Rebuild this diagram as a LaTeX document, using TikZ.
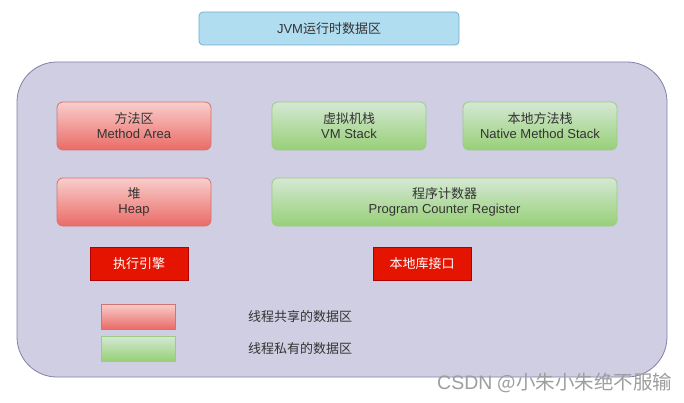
\documentclass[tikz,border=0pt]{standalone}
\usepackage{fontspec}
\setmainfont{Liberation Sans}
\newfontfamily\cjk{Noto Sans CJK SC}
\usetikzlibrary{positioning}
\definecolor{blueF}{HTML}{B1DDF0}
\definecolor{blueS}{HTML}{6FAFCF}
\definecolor{purF}{HTML}{D0CEE2}
\definecolor{purS}{HTML}{8480A8}
\definecolor{redT}{HTML}{F8CECC}
\definecolor{redB}{HTML}{EA6B66}
\definecolor{redS}{HTML}{D07470}
\definecolor{grnT}{HTML}{D5E8D4}
\definecolor{grnB}{HTML}{97D077}
\definecolor{grnS}{HTML}{9CCB86}
\definecolor{engF}{HTML}{E51400}
\definecolor{engS}{HTML}{B20000}
\definecolor{txt}{HTML}{333333}
\tikzset{
  x=1pt, y=-1pt,
  every node/.style={font=\fontsize{13}{15}\selectfont, text=txt, inner sep=0pt, align=center},
  sharedbox/.style={draw=redS, line width=0.8pt, rounded corners=6pt, top color=redT, bottom color=redB},
  privbox/.style={draw=grnS, line width=0.8pt, rounded corners=6pt, top color=grnT, bottom color=grnB},
  enginebox/.style={draw=engS, line width=0.6pt, fill=engF},
}
\begin{document}
\begin{tikzpicture}
\useasboundingbox (0,0) rectangle (684,403);
\fill[white] (0,0) rectangle (684,403);
% title
\draw[draw=blueS, fill=blueF, line width=0.8pt, rounded corners=4pt] (199,12) rectangle (459,45);
\node (title) at (329,28.5) {JVM{\cjk 运行时数据区}};
% container
\draw[draw=purS, fill=purF, line width=0.8pt, rounded corners=40pt] (17,62) rectangle (667,377);
% shared areas
\draw[sharedbox] (57,102) rectangle (211,150);
\node (method) at (134,126) {{\cjk 方法区}\\Method Area};
\draw[sharedbox] (57,178) rectangle (211,226);
\node (heap) at (134,202) {{\cjk 堆}\\Heap};
% private areas
\draw[privbox] (272,102) rectangle (426,150);
\node (vms) at (349,126) {{\cjk 虚拟机栈}\\VM Stack};
\draw[privbox] (463,102) rectangle (617,150);
\node (nms) at (540,126) {{\cjk 本地方法栈}\\Native Method Stack};
\draw[privbox] (272,178) rectangle (617,226);
\node (pcr) at (444.5,202) {{\cjk 程序计数器}\\Program Counter Register};
% engine boxes
\draw[enginebox] (90,247) rectangle (188,280);
\node[text=white] (eng) at (139,263.5) {\cjk 执行引擎};
\draw[enginebox] (373,247) rectangle (471,280);
\node[text=white] (nif) at (422,263.5) {\cjk 本地库接口};
% legend
\draw[draw=redS, line width=0.8pt, top color=redT, bottom color=redB] (101,304) rectangle (175,329);
\node[anchor=west] (lg1) at (248,316.5) {\cjk 线程共享的数据区};
\draw[draw=grnS, line width=0.8pt, top color=grnT, bottom color=grnB] (101,336) rectangle (175,361);
\node[anchor=west] (lg2) at (248,348.5) {\cjk 线程私有的数据区};
% watermark
\node[anchor=west, text=black!38, font=\fontsize{19.5}{21}\selectfont] (wm) at (437,383) {CSDN {\cjk @小朱小朱绝不服输}};
\end{tikzpicture}
\end{document}
